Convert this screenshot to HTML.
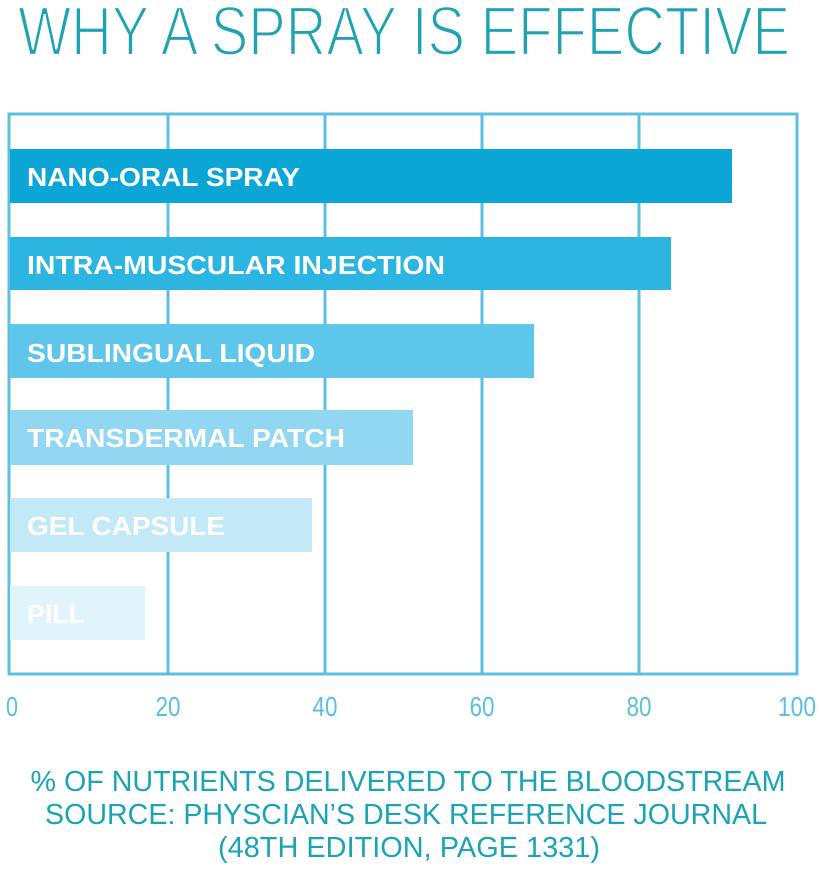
<!DOCTYPE html>
<html><head><meta charset="utf-8"><style>html,body{margin:0;padding:0;background:#fff}svg{display:block}</style></head>
<body>
<svg width="819" height="870" viewBox="0 0 819 870" xmlns="http://www.w3.org/2000/svg" font-family="Liberation Sans, sans-serif">
<text x="18" y="55" font-size="70" fill="#1fa3b3" stroke="#fff" stroke-width="2.2" textLength="772" lengthAdjust="spacingAndGlyphs">WHY A SPRAY IS EFFECTIVE</text>
<g stroke="#5cc0e0" stroke-width="3" fill="none">
<rect x="9" y="114" width="788" height="560"/>
<line x1="168" y1="114" x2="168" y2="674"/>
<line x1="325" y1="114" x2="325" y2="674"/>
<line x1="482" y1="114" x2="482" y2="674"/>
<line x1="639" y1="114" x2="639" y2="674"/>
</g>
<rect x="10" y="149" width="722" height="54" fill="#0ba5d6"/>
<rect x="10" y="237" width="661" height="53" fill="#2cb5e1"/>
<rect x="10" y="324" width="524" height="54" fill="#5ec6ea"/>
<rect x="10" y="410" width="403" height="55" fill="#92d7f1"/>
<rect x="10" y="498" width="302" height="54" fill="#c4e9f6"/>
<rect x="10" y="586" width="135" height="54" fill="#e2f4fb"/>
<g fill="#fff" font-weight="bold" font-size="26">
<text x="27" y="186" textLength="273" lengthAdjust="spacingAndGlyphs">NANO-ORAL SPRAY</text>
<text x="27" y="274" textLength="418" lengthAdjust="spacingAndGlyphs">INTRA-MUSCULAR INJECTION</text>
<text x="27" y="362" textLength="288" lengthAdjust="spacingAndGlyphs">SUBLINGUAL LIQUID</text>
<text x="27" y="447" textLength="318" lengthAdjust="spacingAndGlyphs">TRANSDERMAL PATCH</text>
<text x="27" y="535" textLength="198" lengthAdjust="spacingAndGlyphs">GEL CAPSULE</text>
<text x="27" y="623" textLength="58" lengthAdjust="spacingAndGlyphs">PILL</text>
</g>
<g fill="#5cbfe0" font-size="28" text-anchor="middle">
<text x="12" y="716" textLength="12" lengthAdjust="spacingAndGlyphs">0</text>
<text x="168" y="716" textLength="25" lengthAdjust="spacingAndGlyphs">20</text>
<text x="325" y="716" textLength="25" lengthAdjust="spacingAndGlyphs">40</text>
<text x="482" y="716" textLength="25" lengthAdjust="spacingAndGlyphs">60</text>
<text x="639" y="716" textLength="25" lengthAdjust="spacingAndGlyphs">80</text>
<text x="797" y="716" textLength="38" lengthAdjust="spacingAndGlyphs">100</text>
</g>
<g fill="#1ba3b6" font-size="29" text-anchor="middle">
<text x="408" y="791" textLength="755" lengthAdjust="spacingAndGlyphs">% OF NUTRIENTS DELIVERED TO THE BLOODSTREAM</text>
<text x="406" y="824" textLength="722" lengthAdjust="spacingAndGlyphs">SOURCE: PHYSCIAN’S DESK REFERENCE JOURNAL</text>
<text x="409" y="857" textLength="382" lengthAdjust="spacingAndGlyphs">(48TH EDITION, PAGE 1331)</text>
</g>
</svg>
</body></html>
